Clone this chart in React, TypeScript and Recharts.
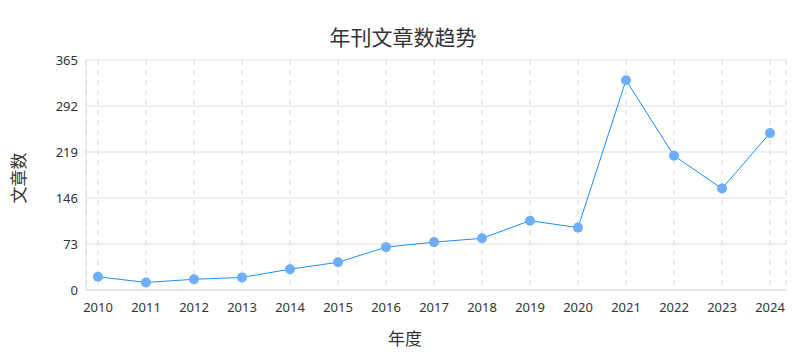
import React from 'react';
import { LineChart, Line, XAxis, YAxis, CartesianGrid } from 'recharts';

const years = ['2010','2011','2012','2013','2014','2015','2016','2017','2018','2019','2020','2021','2022','2023','2024'];
const counts = [21, 12, 17, 20, 33, 44, 68, 76, 82, 110, 99, 333, 213, 161, 249];
const yTicks = [0, 73, 146, 219, 292, 365];

const title = '年刊文章数趋势';
const xLabel = '年度';
const yLabel = '文章数';

const data = years.map((y, i) => ({ year: y, count: counts[i] }));

const FONT = "'Noto Sans', 'Noto Sans CJK SC', sans-serif";

export default function App() {
  return (
    <div style={{ position: 'absolute', left: 0, top: 0, width: 810, height: 360, fontFamily: FONT, background: '#fff' }}>
      <LineChart width={810} height={360} data={data} margin={{ top: 60, right: 24, left: 36, bottom: 40 }}>
        <CartesianGrid horizontal={true} vertical={false} stroke="#e0e0e0" />
        <CartesianGrid horizontal={false} vertical={true} stroke="#d9d9d9" strokeDasharray="5 5" />
        <XAxis
          dataKey="year"
          type="category"
          height={30}
          padding={{ left: 12, right: 16 }}
          axisLine={{ stroke: '#dcdcdc' }}
          tickLine={false}
          tickMargin={7}
          tick={{ fill: '#333', fontSize: 13, fontFamily: FONT }}
          interval={0}
        />
        <YAxis
          width={50}
          domain={[0, 365]}
          ticks={yTicks}
          axisLine={{ stroke: '#dcdcdc' }}
          tickLine={false}
          tick={{ fill: '#333', fontSize: 13, fontFamily: FONT }}
          interval={0}
        />
        <Line
          type="linear"
          dataKey="count"
          stroke="#1890ff"
          strokeWidth={1}
          dot={{ r: 5, fill: '#6eaef8', stroke: 'none', fillOpacity: 1 }}
          activeDot={false}
          isAnimationActive={false}
        />
      </LineChart>
      <div style={{ position: 'absolute', left: 0, top: 26, width: 806, textAlign: 'center', fontSize: 21, lineHeight: '22px', color: '#333' }}>
        {title}
      </div>
      <div style={{ position: 'absolute', left: 0, top: 329, width: 810, textAlign: 'center', fontSize: 17, lineHeight: '20px', color: '#333' }}>
        {xLabel}
      </div>
      <div style={{ position: 'absolute', left: 19, top: 178, width: 0, height: 0 }}>
        <div style={{ position: 'absolute', left: -50, top: -10, width: 100, textAlign: 'center', fontSize: 17, lineHeight: '20px', color: '#333', transform: 'rotate(-90deg)' }}>
          {yLabel}
        </div>
      </div>
    </div>
  );
}
